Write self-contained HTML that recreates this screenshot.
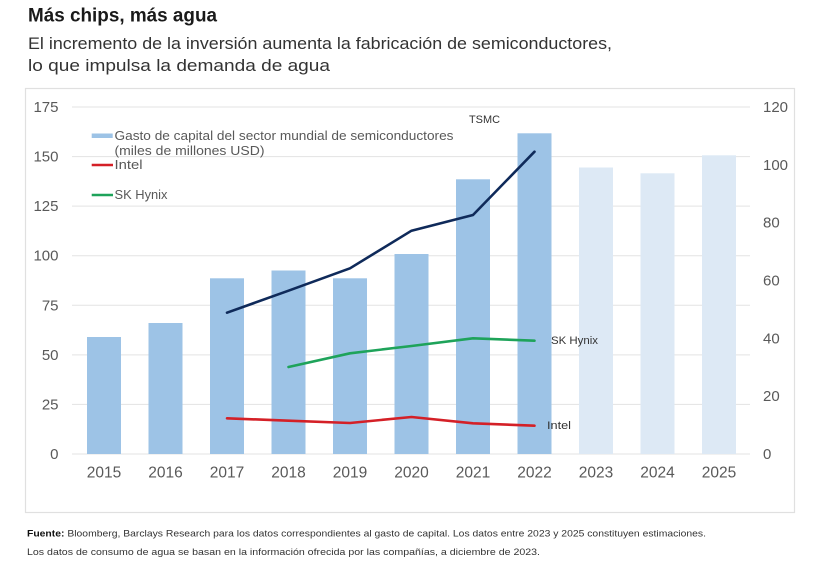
<!DOCTYPE html>
<html><head><meta charset="utf-8"><style>
html,body{margin:0;padding:0;background:#fff;}
svg{display:block;}
text{font-family:"Liberation Sans",sans-serif;}
</style></head><body>
<svg width="826" height="563" viewBox="0 0 826 563" xmlns="http://www.w3.org/2000/svg">
<rect width="826" height="563" fill="#fff"/>
<!-- Title -->
<text x="28" y="21.5" font-size="19" font-weight="bold" fill="#1a1a1a" textLength="189" lengthAdjust="spacingAndGlyphs">Más chips, más agua</text>
<text x="28" y="49" font-size="17" fill="#333" textLength="584" lengthAdjust="spacingAndGlyphs">El incremento de la inversión aumenta la fabricación de semiconductores,</text>
<text x="28" y="71" font-size="17" fill="#333" textLength="302" lengthAdjust="spacingAndGlyphs">lo que impulsa la demanda de agua</text>
<!-- Box -->
<rect x="25.5" y="88.5" width="769" height="424" fill="#fff" stroke="#e0e0e0" stroke-width="1.2"/>
<!-- gridlines -->
<g stroke="#e3e3e3" stroke-width="1">
<line x1="72" x2="750" y1="107" y2="107"/>
<line x1="72" x2="750" y1="156.6" y2="156.6"/>
<line x1="72" x2="750" y1="206.1" y2="206.1"/>
<line x1="72" x2="750" y1="255.7" y2="255.7"/>
<line x1="72" x2="750" y1="305.3" y2="305.3"/>
<line x1="72" x2="750" y1="354.9" y2="354.9"/>
<line x1="72" x2="750" y1="404.4" y2="404.4"/>
<line x1="72" x2="750" y1="454" y2="454"/>
</g>
<!-- bars -->
<g fill="#9dc3e6">
<rect x="87" y="337" width="34" height="117"/>
<rect x="148.5" y="323" width="34" height="131"/>
<rect x="210" y="278.3" width="34" height="175.7"/>
<rect x="271.5" y="270.5" width="34" height="183.5"/>
<rect x="333" y="278.3" width="34" height="175.7"/>
<rect x="394.5" y="254" width="34" height="200"/>
<rect x="456" y="179.3" width="34" height="274.7"/>
<rect x="517.5" y="133.3" width="34" height="320.7"/>
</g>
<g fill="#dde9f5">
<rect x="579" y="167.5" width="34" height="286.5"/>
<rect x="640.5" y="173.3" width="34" height="280.7"/>
<rect x="702" y="155.3" width="34" height="298.7"/>
</g>
<!-- lines -->
<g fill="none" stroke-width="2.6" stroke-linejoin="round" stroke-linecap="round">
<polyline stroke="#0f2a5a" points="227,312.7 288.5,290.7 350,268.3 411.5,230.7 473,215 534.5,151.7"/>
<polyline stroke="#1ea35a" points="288.5,367 350,353.3 411.5,346 473,338.3 534.5,340.7"/>
<polyline stroke="#d42027" points="227,418.3 288.5,420.7 350,423 411.5,417 473,423.3 534.5,425.7"/>
</g>
<!-- line labels -->
<text x="469" y="123" font-size="11" fill="#333" textLength="31" lengthAdjust="spacingAndGlyphs">TSMC</text>
<text x="551" y="344" font-size="11" fill="#333" textLength="47" lengthAdjust="spacingAndGlyphs">SK Hynix</text>
<text x="547" y="429" font-size="11" fill="#333" textLength="24" lengthAdjust="spacingAndGlyphs">Intel</text>
<!-- legend -->
<rect x="91.7" y="133.5" width="21" height="4.5" fill="#9dc3e6"/>
<text x="114.5" y="140" font-size="13" fill="#595959" textLength="339" lengthAdjust="spacingAndGlyphs">Gasto de capital del sector mundial de semiconductores</text>
<text x="114.5" y="155" font-size="13" fill="#595959" textLength="150" lengthAdjust="spacingAndGlyphs">(miles de millones USD)</text>
<line x1="91.7" x2="113" y1="165" y2="165" stroke="#d42027" stroke-width="2.4"/>
<text x="114.5" y="169" font-size="13" fill="#595959" textLength="28" lengthAdjust="spacingAndGlyphs">Intel</text>
<line x1="91.7" x2="113" y1="195" y2="195" stroke="#1ea35a" stroke-width="2.4"/>
<text x="114.5" y="199" font-size="13" fill="#595959" textLength="53" lengthAdjust="spacingAndGlyphs">SK Hynix</text>
<!-- left axis -->
<g font-size="15" fill="#595959" text-anchor="end">
<text x="58.5" y="112">175</text>
<text x="58.5" y="161.6">150</text>
<text x="58.5" y="211.1">125</text>
<text x="58.5" y="260.7">100</text>
<text x="58.5" y="310.3">75</text>
<text x="58.5" y="359.9">50</text>
<text x="58.5" y="409.4">25</text>
<text x="58.5" y="459">0</text>
</g>
<!-- right axis -->
<g font-size="15" fill="#595959">
<text x="763" y="112">120</text>
<text x="763" y="169.8">100</text>
<text x="763" y="227.7">80</text>
<text x="763" y="285.5">60</text>
<text x="763" y="343.3">40</text>
<text x="763" y="401.2">20</text>
<text x="763" y="459">0</text>
</g>
<!-- x axis -->
<g font-size="15.5" fill="#595959" text-anchor="middle">
<text x="104" y="477.5">2015</text>
<text x="165.5" y="477.5">2016</text>
<text x="227" y="477.5">2017</text>
<text x="288.5" y="477.5">2018</text>
<text x="350" y="477.5">2019</text>
<text x="411.5" y="477.5">2020</text>
<text x="473" y="477.5">2021</text>
<text x="534.5" y="477.5">2022</text>
<text x="596" y="477.5">2023</text>
<text x="657.5" y="477.5">2024</text>
<text x="719" y="477.5">2025</text>
</g>
<!-- footer -->
<text x="27" y="536.5" font-size="9.5" fill="#333" textLength="679" lengthAdjust="spacingAndGlyphs"><tspan font-weight="bold" fill="#111">Fuente:</tspan> Bloomberg, Barclays Research para los datos correspondientes al gasto de capital. Los datos entre 2023 y 2025 constituyen estimaciones.</text>
<text x="27" y="555" font-size="9.5" fill="#333" textLength="513" lengthAdjust="spacingAndGlyphs">Los datos de consumo de agua se basan en la información ofrecida por las compañías, a diciembre de 2023.</text>
</svg>
</body></html>
